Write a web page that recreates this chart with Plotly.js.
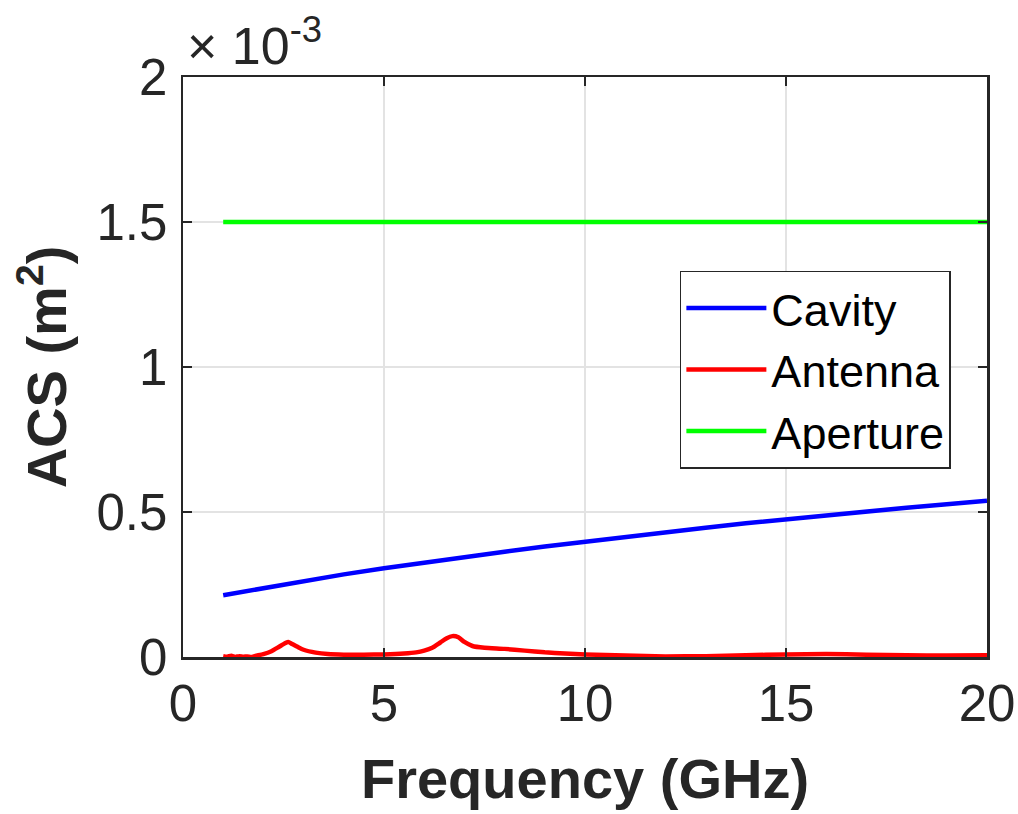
<!DOCTYPE html>
<html>
<head>
<meta charset="utf-8">
<script src="https://cdn.plot.ly/plotly-3.0.1.min.js"></script>
<style>
  html, body { margin: 0; padding: 0; background: #fff; }
  #chart { width: 1018px; height: 814px; }
</style>
</head>
<body>
<div id="chart"></div>
<script>
// Absorption cross-section, in units of 1e-3 m^2
const cavityFreq = [1, 2, 3, 4, 5, 6, 7, 8, 9, 10, 11, 12, 13, 14, 15, 16, 17, 18, 19, 20];
const cavityACS  = [0.213, 0.238, 0.262, 0.285, 0.306, 0.326, 0.345, 0.363, 0.381, 0.398,
                    0.414, 0.430, 0.446, 0.461, 0.475, 0.489, 0.502, 0.515, 0.527, 0.539];

const antennaFreq = [1.0, 1.1, 1.2, 1.3, 1.4, 1.5, 1.6, 1.7, 1.8, 2.0, 2.2, 2.4, 2.55, 2.62, 2.7,
                     2.85, 3.0, 3.3, 3.6, 4.0, 4.5, 5.0, 5.5, 5.8, 6.0, 6.2, 6.4, 6.55, 6.7,
                     6.85, 7.0, 7.2, 7.5, 8.0, 8.5, 9.0, 9.5, 10, 11, 12, 13, 14, 15, 16, 17,
                     18, 19, 20];
const antennaACS  = [0.003, 0.001, 0.004, 0.000, 0.003, 0.001, 0.002, 0.000, 0.004, 0.010,
                     0.020, 0.036, 0.048, 0.052, 0.046, 0.035, 0.025, 0.015, 0.010, 0.008,
                     0.008, 0.009, 0.012, 0.016, 0.022, 0.032, 0.050, 0.064, 0.072, 0.068,
                     0.052, 0.038, 0.032, 0.028, 0.022, 0.016, 0.012, 0.009, 0.005, 0.002,
                     0.003, 0.006, 0.009, 0.010, 0.008, 0.006, 0.005, 0.006];

const apertureFreq = [1, 20];
const apertureACS  = [1.5, 1.5];

const xTicks = [0, 5, 10, 15, 20];
const yTicks = [0, 0.5, 1, 1.5, 2];
const yTickText = ['0', '0.5', '1', '1.5', '2'];

const axisColor = '#262626';
const font = 'Arial, "Liberation Sans", Helvetica, sans-serif';

const traces = [
  { x: cavityFreq, y: cavityACS, name: 'Cavity', mode: 'lines',
    line: { color: '#0000ff', width: 4.5 } },
  { x: antennaFreq, y: antennaACS, name: 'Antenna', mode: 'lines',
    line: { color: '#ff0000', width: 4.5, shape: 'spline', smoothing: 0.6 } },
  { x: apertureFreq, y: apertureACS, name: 'Aperture', mode: 'lines',
    line: { color: '#00ff00', width: 4.5 } }
];

const axisCommon = {
  showline: true, linecolor: axisColor, linewidth: 2.5, mirror: 'ticks',
  ticks: 'inside', ticklen: 9, tickwidth: 2.5, tickcolor: axisColor,
  showgrid: true, gridcolor: '#e3e3e3', gridwidth: 1.2, zeroline: false,
  tickfont: { family: font, size: 51, color: axisColor }
};

const layout = {
  width: 1018, height: 814,
  margin: { l: 183, r: 31, t: 77, b: 157 },
  paper_bgcolor: '#ffffff', plot_bgcolor: '#ffffff',
  showlegend: true,
  legend: {
    x: 0.618, y: 0.666, xanchor: 'left', yanchor: 'top',
    bgcolor: '#ffffff', bordercolor: '#262626', borderwidth: 1.5,
    font: { family: font, size: 45, color: '#000000' },
    itemwidth: 80, tracegroupgap: 0
  },
  xaxis: Object.assign({}, axisCommon, {
    range: [0, 20], tickvals: xTicks, ticktext: xTicks.map(String),
    title: { text: '<b>Frequency (GHz)</b>', standoff: 28,
             font: { family: font, size: 56, color: axisColor } }
  }),
  yaxis: Object.assign({}, axisCommon, {
    range: [0, 2], tickvals: yTicks, ticktext: yTickText, ticklabelstandoff: 3,
    title: { text: '<b>ACS (m<sup>2</sup>)</b>', standoff: 12,
             font: { family: font, size: 56, color: axisColor } }
  }),
  annotations: [{
    xref: 'paper', yref: 'paper', x: 0, y: 1, xanchor: 'left', yanchor: 'bottom',
    xshift: 2, yshift: 0, showarrow: false,
    text: '× 10<sup>-3</sup>',
    font: { family: font, size: 52, color: axisColor }
  }]
};

Plotly.newPlot('chart', traces, layout, { displayModeBar: false, staticPlot: true });
</script>
</body>
</html>
